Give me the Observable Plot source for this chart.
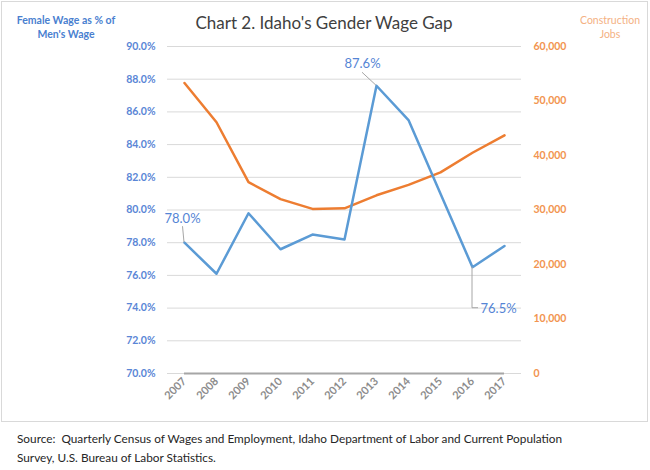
<!DOCTYPE html>
<html>
<head>
<meta charset="utf-8">
<script src="https://cdn.jsdelivr.net/npm/d3@7"></script>
<script src="https://cdn.jsdelivr.net/npm/@observablehq/plot@0.6"></script>
<style>
  body { margin: 0; background: #fff; font-family: Lato, "Noto Sans", sans-serif; }
  #wrap { position: relative; width: 650px; height: 470px; }
  #frame { position: absolute; left: 1px; top: 1px; width: 645px; height: 419px; border: 1px solid #d9d9d9; }
  #chart { position: absolute; left: 0; top: 0; }
  .t { position: absolute; white-space: nowrap; }
  #title { left: 0; width: 648px; text-align: center; top: 12px; font-size: 17px; color: #404040; }
  #ylab { left: 10px; width: 112px; text-align: center; top: 13px; font-size: 10.5px; line-height: 14px; color: #4a7fd0; font-weight: bold; }
  #y2lab { left: 575px; width: 70px; text-align: center; top: 13px; font-size: 10.5px; line-height: 14px; color: #f4b183; }
  #caption { left: 17px; top: 429px; font-size: 11.8px; line-height: 19px; color: #262626; }
</style>
</head>
<body>
<div id="wrap">
  <div id="frame"></div>
  <div id="chart"></div>
  <div class="t" id="title">Chart 2. Idaho's Gender Wage Gap</div>
  <div class="t" id="ylab">Female Wage as % of<br>Men's Wage</div>
  <div class="t" id="y2lab">Construction<br>Jobs</div>
  <div class="t" id="caption">Source:&nbsp; Quarterly Census of Wages and Employment, Idaho Department of Labor and Current Population<br>Survey, U.S. Bureau of Labor Statistics.</div>
</div>
<script>
const years = [2007, 2008, 2009, 2010, 2011, 2012, 2013, 2014, 2015, 2016, 2017];
const wagePct = [78.0, 76.1, 79.8, 77.6, 78.5, 78.2, 87.6, 85.5, 81.0, 76.5, 77.8];
const constructionJobs = [53300, 46100, 35100, 32000, 30200, 30300, 32700, 34600, 36900, 40500, 43700];
const pctTicks = [70, 72, 74, 76, 78, 80, 82, 84, 86, 88, 90];
const jobTicks = [0, 10000, 20000, 30000, 40000, 50000, 60000];
const labeledYears = [2007, 2013, 2016];

const BLUE = "#5b9bd5", ORANGE = "#ed7d31";
const jobsMax = 60000, pctMin = 70, pctMax = 90;
const jobsToPct = j => pctMin + j / jobsMax * (pctMax - pctMin);

const wageData = years.map((year, i) => ({year, pct: wagePct[i]}));
const jobData = years.map((year, i) => ({year, jobs: constructionJobs[i]}));
const labelData = wageData.filter(d => labeledYears.includes(d.year));

// leader lines for the data labels, drawn through the plot's scales
function leaders(index, scales) {
  const {x, y} = scales;
  const g = d3.create("svg:g").attr("fill", "none").attr("stroke", "#a6a6a6").attr("stroke-width", 1);
  const p = yr => wageData.find(d => d.year === yr);
  const a = p(2007), b = p(2013), c = p(2016);
  g.append("path").attr("d", `M${x(a.year)},${y(a.pct)}l-1.5,-16`);
  g.append("path").attr("d", `M${x(b.year)},${y(b.pct)}l-14,-13`);
  g.append("path").attr("d", `M${x(c.year)},${y(c.pct)}v41h6`);
  return g.node();
}

const chart = Plot.plot({
  width: 650,
  height: 425,
  marginTop: 46,
  marginBottom: 52,
  marginLeft: 167,
  marginRight: 129,
  style: {fontFamily: "Lato, 'Noto Sans', sans-serif", background: "transparent", overflow: "visible"},
  x: {type: "point", domain: years, padding: 0.46},
  y: {domain: [pctMin, pctMax]},
  marks: [
    Plot.ruleY(pctTicks, {stroke: "#d9d9d9", strokeWidth: 1}),
    Plot.ruleY([pctMin], {x1: () => years[0], x2: () => years[years.length - 1], stroke: "#a6a6a6", strokeWidth: 2}),
    Plot.axisY(pctTicks, {anchor: "left", tickSize: 0, tickPadding: 12, tickFormat: d => d.toFixed(1) + "%", fill: "#5a86d6", fontSize: 10.5, fontWeight: "bold", label: null}),
    Plot.axisY(jobTicks.map(jobsToPct), {anchor: "right", tickSize: 0, tickPadding: 12, tickFormat: (d, i) => d3.format(",")(jobTicks[i]), fill: "#f29450", fontSize: 10.5, fontWeight: "bold", label: null}),
    Plot.axisX({tickSize: 0, tickRotate: -45, tickPadding: 6, tickFormat: d => String(d), fill: "#8c8c8c", fontSize: 11, fontWeight: "bold", label: null}),
    Plot.line(jobData, {x: "year", y: d => jobsToPct(d.jobs), stroke: ORANGE, strokeWidth: 2.5}),
    Plot.line(wageData, {x: "year", y: "pct", stroke: BLUE, strokeWidth: 2.5}),
    leaders,
    Plot.text(labelData.filter(d => d.year === 2007), {x: "year", y: "pct", text: d => d.pct.toFixed(1) + "%", dx: -2, dy: -24, fill: "#5585d5", fontSize: 13}),
    Plot.text(labelData.filter(d => d.year === 2013), {x: "year", y: "pct", text: d => d.pct.toFixed(1) + "%", dx: -14, dy: -22, fill: "#5585d5", fontSize: 13}),
    Plot.text(labelData.filter(d => d.year === 2016), {x: "year", y: "pct", text: d => d.pct.toFixed(1) + "%", dx: 8, dy: 42, textAnchor: "start", fill: "#5585d5", fontSize: 13})
  ]
});
document.getElementById("chart").appendChild(chart);
</script>
</body>
</html>
